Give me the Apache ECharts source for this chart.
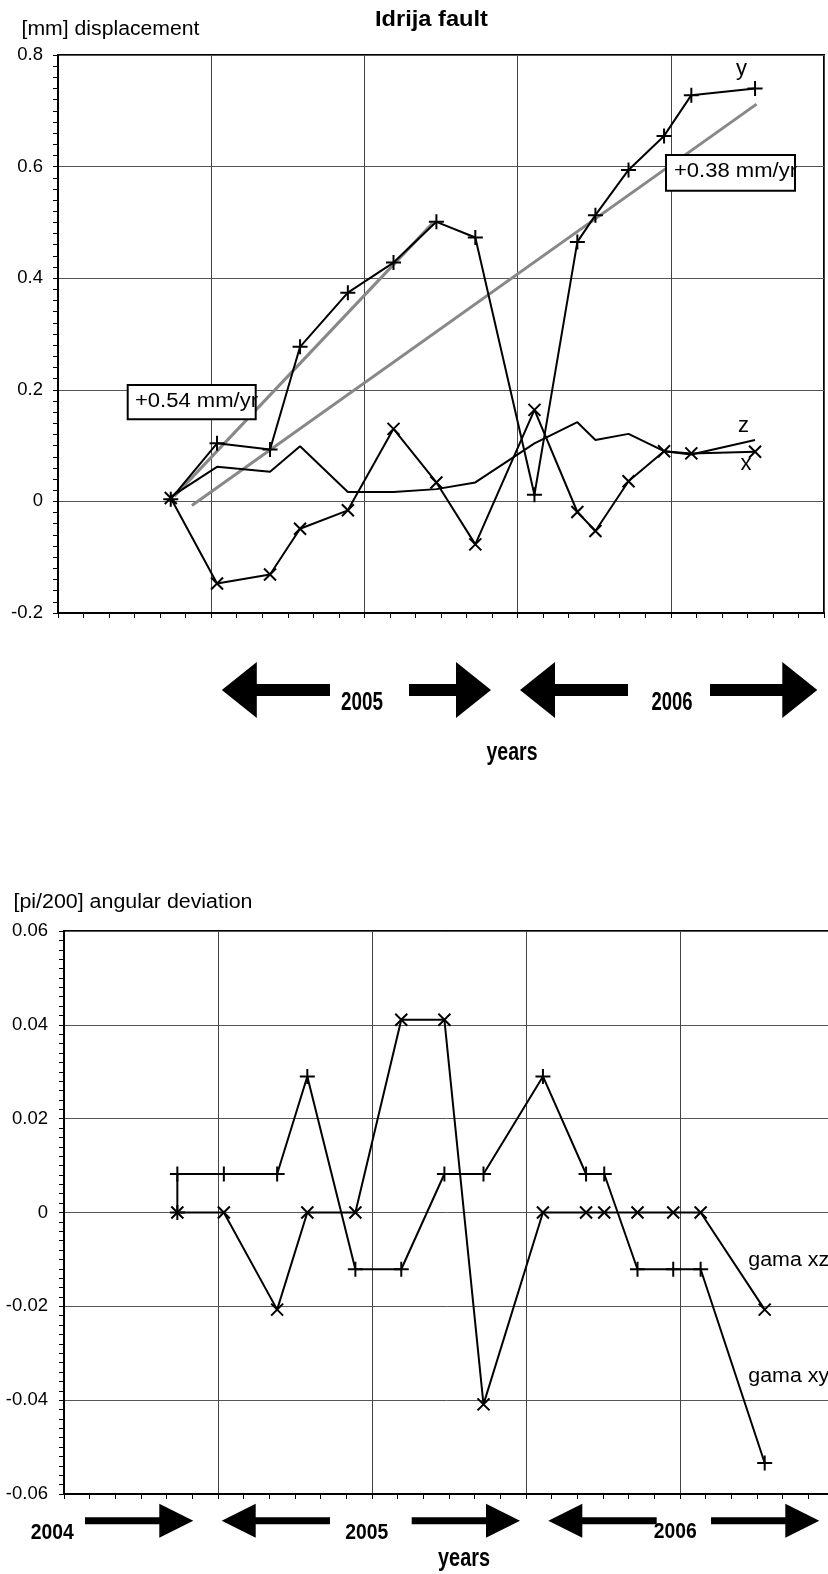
<!DOCTYPE html>
<html><head><meta charset="utf-8">
<script src="https://cdn.jsdelivr.net/npm/echarts@6/dist/echarts.min.js"></script>
<style>html,body{margin:0;padding:0;background:#fff}#c{width:828px;height:1574px}</style>
</head><body><div id="c"></div>
<script>
// ---------- data ----------
const epochs = [2004.868, 2005.019, 2005.192, 2005.290, 2005.446, 2005.595, 2005.735, 2005.862,
                2006.055, 2006.195, 2006.254, 2006.362, 2006.478, 2006.567, 2006.775];
const dispY = [0.004, 0.104, 0.093, 0.277, 0.374, 0.428, 0.501, 0.473, 0.012, 0.465, 0.513, 0.594, 0.655, 0.728, 0.740];
const dispX = [0.006, -0.147, -0.131, -0.049, -0.016, 0.130, 0.034, -0.077, 0.164, -0.019, -0.053, 0.036, 0.090, 0.086, 0.089];
const dispZ = [0.008, 0.062, 0.053, 0.099, 0.017, 0.017, 0.022, 0.034, 0.104, 0.142, 0.110, 0.121, 0.090, 0.084, 0.110];
const trendFastT = [2004.880, 2005.723];
const trendFastV = [0.0095, 0.4987];
const trendSlowT = [2004.937, 2006.780];
const trendSlowV = [-0.0072, 0.712];
const gamaXYStart = 0;
const gamaXY = [0.0082, 0.0082, 0.0082, 0.029, -0.0121, -0.0121, 0.0082, 0.0082, 0.029, 0.0082, 0.0082, -0.0121, -0.0121, -0.0121, -0.0534];
const gamaXZ = [0, 0, -0.0207, 0, 0, 0.0411, 0.0411, -0.0409, 0, 0, 0, 0, 0, 0, -0.0207];
const dispTicks = [-0.2, 0, 0.2, 0.4, 0.6, 0.8];
const angTicks = [-0.06, -0.04, -0.02, 0, 0.02, 0.04, 0.06];
const yearRange = [2004.5, 2007.0];
const yearStep = 0.5;

// ---------- helpers ----------
const PLUS = 'path://M0,50L100,50M50,0L50,100';
const CROSS = 'path://M0,0L100,100M100,0L0,100';
const FONT = '"Liberation Sans", Arial, sans-serif';
const NARROW = '"Liberation Sans Narrow", "Liberation Sans", Arial, sans-serif';
const mctx = document.createElement('canvas').getContext('2d');
function pts(ts, vs) { return ts.map((t, i) => [t, vs[i]]); }
function arrow(tip, tail, cy, shaftH, headH, headL) {
  const d = tail > tip ? 1 : -1;
  const b = tip + d * headL;
  return { type: 'polygon', z: 100, shape: { points: [
    [tip, cy], [b, cy - headH / 2], [b, cy - shaftH / 2], [tail, cy - shaftH / 2],
    [tail, cy + shaftH / 2], [b, cy + shaftH / 2], [b, cy + headH / 2]] },
    style: { fill: '#000' } };
}
// text element; if opts.w is given the text is stretched horizontally to that width
function txt(s, x, y, size, opts) {
  opts = opts || {};
  const al = opts.align || 'left';
  const font = (opts.bold ? 'bold ' : '') + size + 'px ' + (opts.family || FONT);
  let sx = opts.sx || 1;
  if (opts.w) { mctx.font = font; sx = opts.w / mctx.measureText(s).width; }
  return { type: 'text', x: x, y: y, z: opts.z || 101, scaleX: sx,
    style: { text: s, fill: '#000', font: font,
      textAlign: al, align: al, textVerticalAlign: 'middle', verticalAlign: 'middle' } };
}

const axisBase = (gi) => ({
  gridIndex: gi, type: 'value', min: yearRange[0], max: yearRange[1], interval: yearStep,
  axisLabel: { show: false },
  axisLine: { show: true, onZero: false, lineStyle: { color: '#000', width: 2 } },
  axisTick: { show: true, length: 5, lineStyle: { color: '#000', width: 1 } },
  minorTick: { show: true, splitNumber: 6, length: 5, lineStyle: { color: '#000', width: 1 } },
  splitLine: { show: true, lineStyle: { color: '#444', width: 1 } }
});
const yBase = (gi, ticks, margin) => ({
  gridIndex: gi, type: 'value', min: ticks[0], max: ticks[ticks.length - 1],
  interval: (ticks[ticks.length - 1] - ticks[0]) / (ticks.length - 1),
  axisLabel: { show: true, color: '#000', fontSize: 18.5, fontFamily: FONT, margin: margin },
  axisLine: { show: true, onZero: false, lineStyle: { color: '#000', width: 2 } },
  axisTick: { show: true, length: 5, lineStyle: { color: '#000', width: 1 } },
  minorTick: { show: true, splitNumber: 10, length: 5, lineStyle: { color: '#000', width: 1 } },
  splitLine: { show: true, lineStyle: { color: '#555', width: 1 } }
});
const mark = (sym, size) => ({
  symbol: sym, symbolSize: size, showSymbol: true, showAllSymbol: true,
  itemStyle: { color: '#000', borderColor: '#000', borderWidth: 2 }
});
const blackLine = { color: '#000', width: 2 };

const option = {
  animation: false,
  backgroundColor: '#fff',
  textStyle: { fontFamily: FONT },
  grid: [
    { left: 58, top: 55, width: 766, height: 558, show: true, borderColor: '#000', borderWidth: 2,
      backgroundColor: 'transparent', containLabel: false, outerBoundsMode: 'none' },
    { left: 64, top: 931, width: 770, height: 563, show: true, borderColor: '#000', borderWidth: 2,
      backgroundColor: 'transparent', containLabel: false, outerBoundsMode: 'none' }
  ],
  xAxis: [axisBase(0), axisBase(1)],
  yAxis: [yBase(0, dispTicks, 15), yBase(1, angTicks, 16)],
  series: [
    { type: 'line', xAxisIndex: 0, yAxisIndex: 0, data: pts(trendFastT, trendFastV), symbol: 'none',
      lineStyle: { color: '#888', width: 3 }, z: 2 },
    { type: 'line', xAxisIndex: 0, yAxisIndex: 0, data: pts(trendSlowT, trendSlowV), symbol: 'none',
      lineStyle: { color: '#888', width: 3 }, z: 2 },
    { type: 'line', name: 'z', xAxisIndex: 0, yAxisIndex: 0, data: pts(epochs, dispZ),
      symbol: 'none', lineStyle: blackLine, z: 3 },
    Object.assign({ type: 'line', name: 'x', xAxisIndex: 0, yAxisIndex: 0, data: pts(epochs, dispX),
      lineStyle: blackLine, z: 3 }, mark(CROSS, 12)),
    Object.assign({ type: 'line', name: 'y', xAxisIndex: 0, yAxisIndex: 0, data: pts(epochs, dispY),
      lineStyle: blackLine, z: 3 }, mark(PLUS, 15)),
    Object.assign({ type: 'line', name: 'gama xz', xAxisIndex: 1, yAxisIndex: 1, data: pts(epochs, gamaXZ),
      lineStyle: blackLine, z: 3 }, mark(CROSS, 12)),
    Object.assign({ type: 'line', name: 'gama xy', xAxisIndex: 1, yAxisIndex: 1,
      data: [[epochs[0], gamaXYStart]].concat(pts(epochs, gamaXY)),
      lineStyle: blackLine, z: 3 }, mark(PLUS, 15))
  ],
  graphic: [
    // titles / axis names
    txt('Idrija fault', 375, 20.5, 21.5, { bold: true, w: 113 }),
    txt('[mm] displacement', 21.5, 29, 20, { w: 178 }),
    txt('[pi/200] angular deviation', 13.5, 902.4, 20, { w: 239 }),
    // series labels
    txt('y', 736, 68.8, 22),
    txt('z', 738, 425.7, 22),
    txt('x', 740.5, 464.1, 22),
    txt('gama xz', 748.3, 1260.2, 20, { sx: 1.07 }),
    txt('gama xy', 748.3, 1376.8, 20, { sx: 1.07 }),
    // rate boxes
    { type: 'rect', z: 100, shape: { x: 127.7, y: 385, width: 128, height: 34.3 }, style: { fill: '#fff' } },
    txt('+0.54 mm/yr', 135, 401.6, 19.5, { w: 123 }),
    { type: 'rect', z: 102, shape: { x: 127.7, y: 385, width: 128, height: 34.3 }, style: { fill: 'none', stroke: '#000', lineWidth: 2 } },
    { type: 'rect', z: 100, shape: { x: 666, y: 155, width: 129, height: 35.7 }, style: { fill: '#fff' } },
    txt('+0.38 mm/yr', 674, 171.8, 19.5, { w: 123 }),
    { type: 'rect', z: 102, shape: { x: 666, y: 155, width: 129, height: 35.7 }, style: { fill: 'none', stroke: '#000', lineWidth: 2 } },
    // top year arrows
    arrow(221.8, 330, 690, 12, 56, 35),
    arrow(491, 409, 690, 12, 56, 35),
    arrow(520, 628, 690, 12, 56, 35),
    arrow(817.3, 710, 690, 12, 56, 35),
    txt('2005', 362, 703, 25, { align: 'center', bold: true, w: 42, family: NARROW }),
    txt('2006', 672, 703, 25, { align: 'center', bold: true, w: 41, family: NARROW }),
    txt('years', 512, 753, 25, { align: 'center', bold: true, w: 51, family: NARROW }),
    // bottom year arrows
    arrow(193.3, 85, 1520.8, 7, 34, 34),
    arrow(221.7, 330, 1520.8, 7, 34, 34),
    arrow(520, 411.7, 1520.8, 7, 34, 34),
    arrow(548.3, 656.7, 1520.8, 7, 34, 34),
    arrow(819.3, 711, 1520.8, 7, 34, 34),
    txt('2004', 52.3, 1533, 22, { align: 'center', bold: true, w: 43, family: NARROW }),
    txt('2005', 366.7, 1533, 22, { align: 'center', bold: true, w: 43, family: NARROW }),
    txt('2006', 675.3, 1532, 22, { align: 'center', bold: true, w: 43, family: NARROW }),
    txt('years', 464, 1559, 25, { align: 'center', bold: true, w: 52, family: NARROW })
  ]
};
const chart = echarts.init(document.getElementById('c'), null, { renderer: 'canvas' });
chart.setOption(option);
</script>
</body></html>
